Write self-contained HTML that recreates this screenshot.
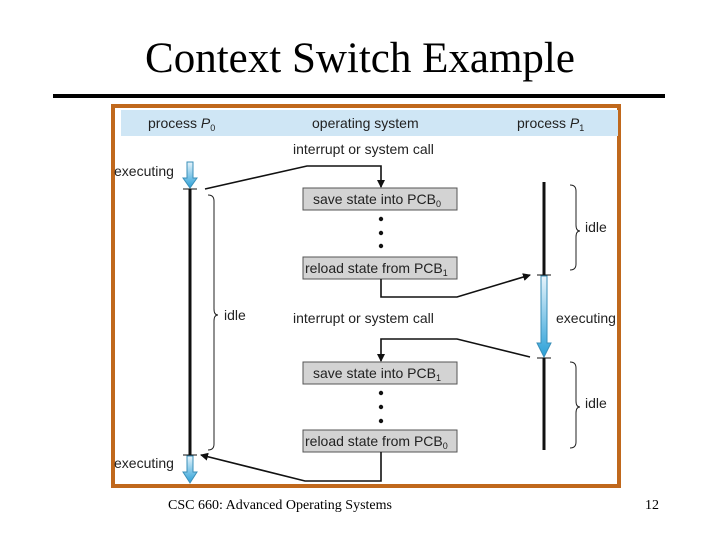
<!DOCTYPE html>
<html><head><meta charset="utf-8"><style>
body{margin:0;background:#fff;width:720px;height:540px;overflow:hidden}
svg{display:block}
.t{font-family:"Liberation Sans",sans-serif;font-size:14px;fill:#222}
.s{font-family:"Liberation Serif",serif}
</style></head><body>
<svg width="720" height="540" viewBox="0 0 720 540">
<defs>
<linearGradient id="g" x1="0" y1="0" x2="0" y2="1"><stop offset="0" stop-color="#e8f4fb"/><stop offset="1" stop-color="#2aa0d8"/></linearGradient>
<marker id="a" markerWidth="8" markerHeight="8" refX="7" refY="4" orient="auto" markerUnits="userSpaceOnUse"><path d="M0,0 L8,4 L0,8 z" fill="#111"/></marker>
</defs>
<text x="360" y="72" text-anchor="middle" class="s" font-size="43" fill="#000">Context Switch Example</text>
<rect x="53" y="94" width="612" height="4" fill="#000"/>
<rect x="113" y="106" width="506" height="380" fill="#fff" stroke="#c0681c" stroke-width="4"/>
<rect x="121" y="110" width="497" height="26" fill="#cfe6f5"/>
<text x="148" y="128" class="t">process <tspan font-style="italic">P</tspan><tspan font-size="9" dy="3">0</tspan></text>
<text x="312" y="128" class="t">operating system</text>
<text x="517" y="128" class="t">process <tspan font-style="italic">P</tspan><tspan font-size="9" dy="3">1</tspan></text>
<text x="293" y="154" class="t">interrupt or system call</text>
<text x="114" y="176" class="t">executing</text>
<text x="293" y="323" class="t">interrupt or system call</text>
<text x="556" y="323" class="t">executing</text>
<text x="114" y="468" class="t">executing</text>
<text x="224" y="320" class="t">idle</text>
<text x="585" y="232" class="t">idle</text>
<text x="585" y="408" class="t">idle</text>
<path d="M187,162 h6 v16 h4 l-7,10 l-7,-10 h4z" fill="url(#g)" stroke="#3a8fb8" stroke-width="1"/>
<line x1="183" y1="189" x2="197" y2="189" stroke="#111"/>
<line x1="190" y1="189" x2="190" y2="455" stroke="#111" stroke-width="3"/>
<line x1="183" y1="455" x2="197" y2="455" stroke="#111"/>
<path d="M187,456 h6 v16 h4 l-7,11 l-7,-11 h4z" fill="url(#g)" stroke="#3a8fb8" stroke-width="1"/>
<path d="M208,195 q6,0 6,6 v108 q0,6 4,6 q-4,0 -4,6 v123 q0,6 -6,6" fill="none" stroke="#222" stroke-width="1"/>
<line x1="544" y1="182" x2="544" y2="275" stroke="#111" stroke-width="3"/>
<line x1="537" y1="275" x2="551" y2="275" stroke="#111"/>
<path d="M541,276 h6 v67 h4 l-7,14 l-7,-14 h4z" fill="url(#g)" stroke="#3a8fb8" stroke-width="1"/>
<line x1="537" y1="358" x2="551" y2="358" stroke="#111"/>
<line x1="544" y1="358" x2="544" y2="450" stroke="#111" stroke-width="3"/>
<path d="M570,185 q6,0 6,6 v34 q0,6 4,6 q-4,0 -4,6 v27 q0,6 -6,6" fill="none" stroke="#222"/>
<path d="M570,362 q6,0 6,6 v33 q0,6 4,6 q-4,0 -4,6 v29 q0,6 -6,6" fill="none" stroke="#222"/>
<g fill="#d3d3d3" stroke="#555">
<rect x="303" y="188" width="154" height="22"/>
<rect x="303" y="257" width="154" height="22"/>
<rect x="303" y="362" width="154" height="22"/>
<rect x="303" y="430" width="154" height="22"/>
</g>
<text x="313" y="204" class="t">save state into PCB<tspan font-size="9" dy="3">0</tspan></text>
<text x="305" y="273" class="t">reload state from PCB<tspan font-size="9" dy="3">1</tspan></text>
<text x="313" y="378" class="t">save state into PCB<tspan font-size="9" dy="3">1</tspan></text>
<text x="305" y="446" class="t">reload state from PCB<tspan font-size="9" dy="3">0</tspan></text>
<g fill="#111"><circle cx="381" cy="219" r="2.2"/><circle cx="381" cy="233" r="2.2"/><circle cx="381" cy="246" r="2.2"/>
<circle cx="381" cy="393" r="2.2"/><circle cx="381" cy="407" r="2.2"/><circle cx="381" cy="421" r="2.2"/></g>
<g fill="none" stroke="#111" stroke-width="1.6">
<polyline points="205,189 307,166 381,166 381,187" marker-end="url(#a)"/>
<polyline points="381,279 381,297 457,297 530,275" marker-end="url(#a)"/>
<polyline points="530,357 457,339 381,339 381,361" marker-end="url(#a)"/>
<polyline points="381,452 381,481 305,481 201,455" marker-end="url(#a)"/>
</g>
<text x="168" y="509" class="s" font-size="14" fill="#000">CSC 660: Advanced Operating Systems</text>
<text x="645" y="509" class="s" font-size="14" fill="#000">12</text>
</svg>
</body></html>
